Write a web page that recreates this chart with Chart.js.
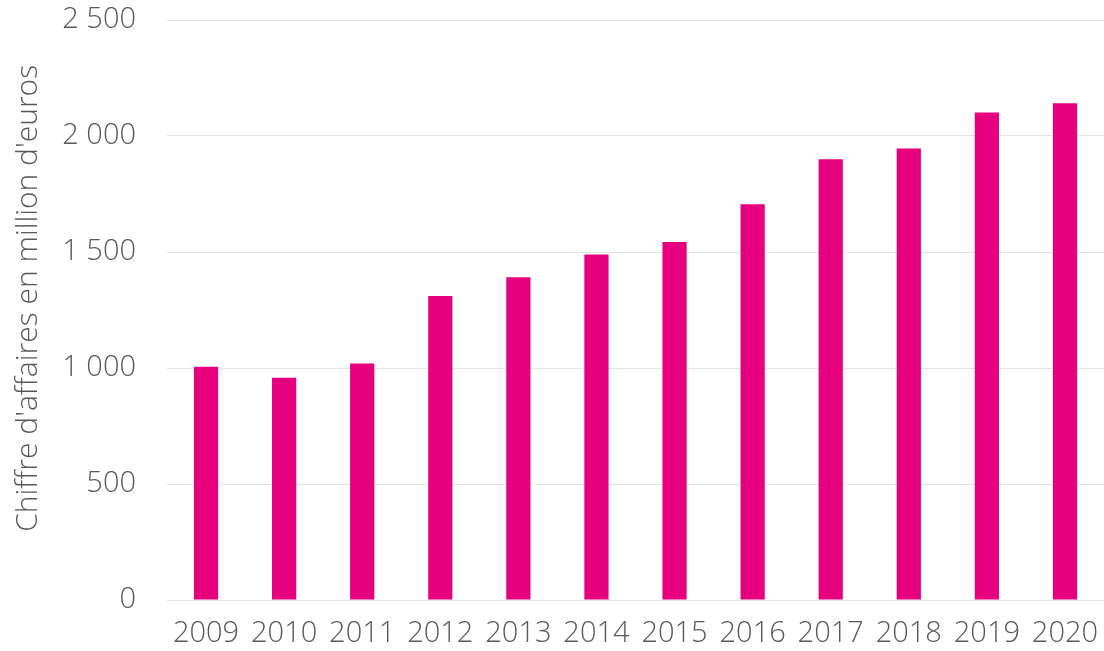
<!DOCTYPE html>
<html>
<head>
<meta charset="utf-8">
<script src="https://cdn.jsdelivr.net/npm/chart.js@4"></script>
<style>
  html, body { margin: 0; padding: 0; background: #fff; }
  #wrap { width: 1104px; height: 651px; }
</style>
</head>
<body>
<div id="wrap"><canvas id="chart"></canvas></div>
<script>
const years = ["2009", "2010", "2011", "2012", "2013", "2014", "2015", "2016", "2017", "2018", "2019", "2020"];
const revenue = [1005, 958, 1019, 1310, 1391, 1489, 1543, 1706, 1900, 1946, 2101, 2141];
const yTicks = [0, 500, 1000, 1500, 2000, 2500];

const grey = "#595959";
const fmt = v => String(v).replace(/\B(?=(\d{3})+(?!\d))/g, " ");

const ctx = document.getElementById("chart").getContext("2d");

new Chart(ctx, {
    type: "bar",
    data: {
        labels: years,
        datasets: [
            {
                data: revenue,
                backgroundColor: "#E6007E",
                barPercentage: 0.31,
                categoryPercentage: 1,
            },
        ],
    },
    options: {
        responsive: true,
        maintainAspectRatio: false,
        animation: false,
        layout: {
            padding: { top: 20, right: 0, bottom: 0, left: 0 },
        },
        plugins: {
            legend: { display: false },
            tooltip: { enabled: false },
        },
        scales: {
            x: {
                grid: { display: false, drawTicks: false },
                border: { display: false },
                afterFit: scale => {
                    // labels fit inside the plot, no extra side padding
                    scale.height = 51;
                    scale.paddingLeft = 0;
                    scale.paddingRight = 0;
                },
                ticks: {
                    color: grey,
                    padding: 16,
                    maxRotation: 0,
                    font: { family: "'Open Sans', sans-serif", size: 29, weight: 300 },
                },
            },
            y: {
                min: 0,
                max: 2500,
                afterBuildTicks: scale => {
                    scale.ticks = yTicks.map(v => ({ value: v }));
                },
                afterFit: scale => {
                    scale.width = 167;
                    scale.paddingTop = 0;
                    scale.paddingBottom = 0;
                },
                grid: { color: "#e3e3e3", lineWidth: 1, drawTicks: false },
                border: { display: false },
                ticks: {
                    color: grey,
                    padding: 31,
                    font: { family: "'Open Sans', sans-serif", size: 29, weight: 300 },
                    callback: v => fmt(v),
                },
                title: {
                    display: true,
                    // leading nbsp nudges the rotated title a bit upwards
                    text: "\u00A0\u00A0\u00A0Chiffre d'affaires en million d'euros",
                    color: grey,
                    padding: { top: 10 },
                    font: { family: "'Open Sans', sans-serif", size: 30, weight: 300 },
                },
            },
        },
    },
});
</script>
</body>
</html>
